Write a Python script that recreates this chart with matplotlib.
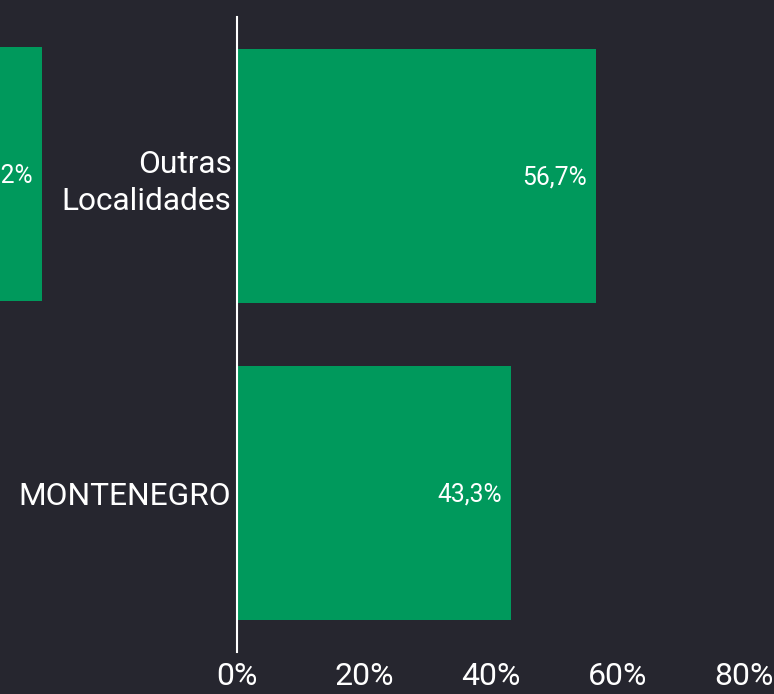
import matplotlib
matplotlib.use('Agg')
import matplotlib.pyplot as plt

# ============================================
# DATA
# ============================================

categories = ['Outras\nLocalidades', 'MONTENEGRO']
values = [56.7, 43.3]

# neighbouring panel, only its edge shows at the left of the picture
left_values = [62.2, 37.8]

x_ticks = [0, 20, 40, 60, 80]
x_labels = ['0%', '20%', '40%', '60%', '80%']

# ============================================
# STYLE
# ============================================

bg = '#26262f'
green = '#00995c'
plt.rcParams['font.family'] = ['Roboto', 'DejaVu Sans']

W, H = 774, 694
fig = plt.figure(figsize=(W / 100, H / 100), dpi=100, facecolor=bg)


def pct(v):
    return f'{v:.1f}%'.replace('.', ',')


def draw_bars(ax, vals):
    ax.set_facecolor('none')
    ys = list(range(len(vals)))
    ax.barh(ys, vals, height=0.8, color=green)
    for y, v in zip(ys, vals):
        ax.annotate(pct(v), (v, y), xytext=(-6.5, -1), textcoords='offset points',
                    ha='right', va='center', color='white', fontsize=17.8)
    ax.set_xlim(0, 80)
    ax.set_ylim(len(vals) - 0.5, -0.5)
    for s in ['top', 'right', 'bottom']:
        ax.spines[s].set_visible(False)
    ax.spines['left'].set_color('white')
    ax.spines['left'].set_linewidth(1.5)
    ax.tick_params(length=0, colors='white')


ax_w = 507
px_per_unit = ax_w / 80

# left panel (cut off by the figure edge), drawn first so it sits underneath
left_zero = 42 - left_values[0] * px_per_unit
ax0 = fig.add_axes([left_zero / W, 44 / H, ax_w / W, 635 / H])
draw_bars(ax0, left_values)
ax0.set_yticks([])
ax0.set_xticks([])

# main panel
ax = fig.add_axes([237 / W, 42 / H, ax_w / W, 635 / H])
draw_bars(ax, values)
ax.set_yticks(range(len(categories)))
ax.set_yticklabels(categories, fontsize=22.8, color='white', ha='right', multialignment='right',
                   linespacing=1.36)
ax.tick_params(axis='y', pad=4)
ax.set_xticks(x_ticks)
ax.set_xticklabels(x_labels, fontsize=23, color='white')
ax.tick_params(axis='x', pad=7.5)

fig.savefig('out.png', dpi=100, facecolor=bg)
plt.close()
